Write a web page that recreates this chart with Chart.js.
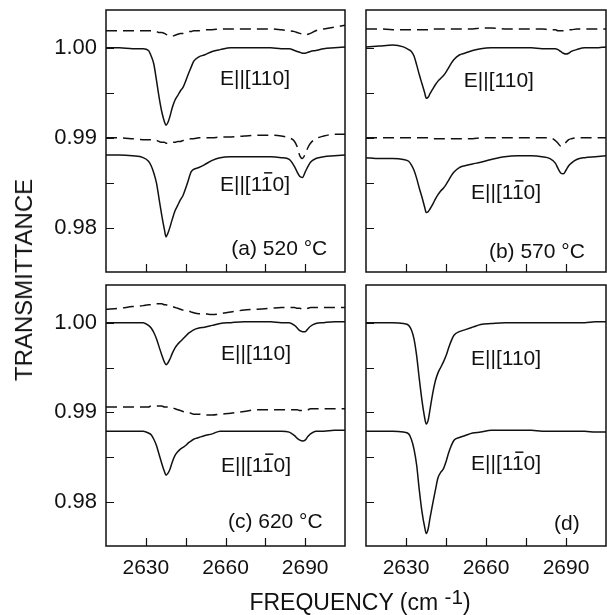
<!DOCTYPE html>
<html>
<head>
<meta charset="utf-8">
<script src="https://cdn.jsdelivr.net/npm/chart.js@4.4.0/dist/chart.umd.min.js"></script>
<style>
  html, body { margin: 0; padding: 0; background: #fff; }
  #wrap { position: relative; width: 607px; height: 615px; overflow: hidden; font-family: "Liberation Sans", Arial, sans-serif; color: #111; }
  canvas { position: absolute; }
  .axis-title { position: absolute; white-space: nowrap; transform: translate(-50%, -50%); }
  #yTitle { left: 24px; top: 280px; font-size: 24px; transform: translate(-50%, -50%) rotate(-90deg); }
  #xTitle { left: 360px; top: 602px; font-size: 23px; }
  #xTitle sup { font-size: 0.9em; vertical-align: 0.25em; line-height: 0; }
</style>
</head>
<body>
<div id="wrap">
  <canvas id="panelA" width="350" height="280" style="left:0;top:0;width:350px;height:280px"></canvas>
  <canvas id="panelB" width="257" height="280" style="left:350px;top:0;width:257px;height:280px"></canvas>
  <canvas id="panelC" width="350" height="335" style="left:0;top:280px;width:350px;height:335px"></canvas>
  <canvas id="panelD" width="257" height="335" style="left:350px;top:280px;width:257px;height:335px"></canvas>
  <div id="yTitle" class="axis-title">TRANSMITTANCE</div>
  <div id="xTitle" class="axis-title">FREQUENCY (cm <sup>-1</sup>)</div>
</div>

<script>
// =================== DATA ===================
// frequency grid (cm-1) shared by every trace
const frequency = [2615, 2620, 2625, 2629, 2631, 2632, 2633, 2634, 2635, 2636, 2637, 2637.6, 2638.3, 2639, 2640,
  2641, 2642, 2643, 2644, 2645, 2646, 2647, 2648, 2650, 2652, 2655, 2658, 2662, 2667, 2672, 2677, 2681, 2684,
  2686, 2687, 2688, 2689, 2690, 2691, 2692, 2694, 2697, 2701, 2705];

const xTickValues = [2630, 2645, 2660, 2675, 2690];
const xTickLabels = ["2630", "", "2660", "", "2690"];
const yTickValues = [0.98, 0.985, 0.99, 0.995, 1.0];
const yTickLabels = ["0.98", "", "0.99", "", "1.00"];

// (a) 520 °C
const a110Solid = [1.0000, 1.0000, 0.9999, 0.9999, 0.9997, 0.9991, 0.9982, 0.9964, 0.9945, 0.9929, 0.9918, 0.9914, 0.9917, 0.9923, 0.9934,
  0.9942, 0.9947, 0.9952, 0.9956, 0.9963, 0.9971, 0.9978, 0.9985, 0.9990, 0.9992, 0.9996, 0.9998, 1.0000, 1.0000, 1.0000, 1.0000, 0.9999, 0.9999,
  0.9997, 0.9996, 0.9995, 0.9994, 0.9994, 0.9995, 0.9996, 0.9997, 0.9999, 1.0000, 1.0001];
const a110Dashed = [1.0019, 1.0019, 1.0019, 1.0019, 1.0019, 1.0019, 1.0018, 1.0018, 1.0017, 1.0017, 1.0016, 1.0015, 1.0014, 1.0013, 1.0013,
  1.0014, 1.0015, 1.0016, 1.0016, 1.0017, 1.0018, 1.0018, 1.0019, 1.0019, 1.0020, 1.0020, 1.0021, 1.0021, 1.0021, 1.0021, 1.0021, 1.0020, 1.0019,
  1.0018, 1.0017, 1.0016, 1.0015, 1.0014, 1.0015, 1.0016, 1.0019, 1.0021, 1.0023, 1.0025];
const a1b10Solid = [0.9881, 0.9881, 0.9880, 0.9878, 0.9874, 0.9869, 0.9861, 0.9850, 0.9832, 0.9814, 0.9798, 0.9790, 0.9794, 0.9800, 0.9810,
  0.9819, 0.9825, 0.9831, 0.9836, 0.9844, 0.9853, 0.9862, 0.9865, 0.9867, 0.9870, 0.9875, 0.9878, 0.9879, 0.9879, 0.9879, 0.9879, 0.9878, 0.9876,
  0.9868, 0.9862, 0.9857, 0.9856, 0.9862, 0.9868, 0.9873, 0.9877, 0.9879, 0.9880, 0.9881];
const a1b10Dashed = [0.9900, 0.9900, 0.9899, 0.9898, 0.9898, 0.9898, 0.9897, 0.9897, 0.9896, 0.9895, 0.9895, 0.9894, 0.9894, 0.9894, 0.9895,
  0.9895, 0.9896, 0.9896, 0.9897, 0.9897, 0.9898, 0.9899, 0.9899, 0.9900, 0.9900, 0.9900, 0.9901, 0.9901, 0.9902, 0.9903, 0.9903, 0.9902, 0.9900,
  0.9896, 0.9890, 0.9880, 0.9877, 0.9882, 0.9889, 0.9894, 0.9899, 0.9902, 0.9904, 0.9904];

// (b) 570 °C
const b110Solid = [1.0001, 1.0002, 1.0003, 1.0001, 0.9998, 0.9996, 0.9991, 0.9981, 0.9970, 0.9960, 0.9950, 0.9944, 0.9945, 0.9949, 0.9954,
  0.9959, 0.9963, 0.9966, 0.9969, 0.9973, 0.9978, 0.9983, 0.9987, 0.9992, 0.9994, 0.9997, 0.9999, 1.0000, 1.0000, 1.0000, 1.0000, 0.9999, 0.9999,
  0.9999, 0.9998, 0.9996, 0.9994, 0.9993, 0.9994, 0.9996, 0.9998, 1.0000, 1.0000, 1.0001];
const b110Dashed = [1.0021, 1.0021, 1.0020, 1.0020, 1.0020, 1.0020, 1.0020, 1.0020, 1.0020, 1.0020, 1.0020, 1.0020, 1.0020, 1.0020, 1.0021,
  1.0021, 1.0021, 1.0021, 1.0021, 1.0021, 1.0021, 1.0021, 1.0021, 1.0021, 1.0021, 1.0021, 1.0022, 1.0022, 1.0021, 1.0021, 1.0021, 1.0021, 1.0020,
  1.0020, 1.0019, 1.0019, 1.0019, 1.0019, 1.0020, 1.0020, 1.0021, 1.0021, 1.0021, 1.0021];
const b1b10Solid = [0.9878, 0.9877, 0.9877, 0.9876, 0.9874, 0.9870, 0.9864, 0.9855, 0.9844, 0.9834, 0.9823, 0.9817, 0.9818, 0.9821, 0.9826,
  0.9832, 0.9837, 0.9841, 0.9844, 0.9848, 0.9853, 0.9858, 0.9862, 0.9867, 0.9869, 0.9871, 0.9873, 0.9876, 0.9879, 0.9880, 0.9880, 0.9879, 0.9877,
  0.9872, 0.9866, 0.9861, 0.9860, 0.9864, 0.9869, 0.9872, 0.9876, 0.9878, 0.9879, 0.9880];
const b1b10Dashed = [0.9900, 0.9900, 0.9900, 0.9900, 0.9900, 0.9900, 0.9900, 0.9900, 0.9900, 0.9900, 0.9900, 0.9900, 0.9900, 0.9900, 0.9899,
  0.9899, 0.9899, 0.9899, 0.9899, 0.9899, 0.9899, 0.9899, 0.9899, 0.9899, 0.9899, 0.9899, 0.9900, 0.9900, 0.9900, 0.9900, 0.9900, 0.9900, 0.9900,
  0.9897, 0.9894, 0.9891, 0.9891, 0.9895, 0.9898, 0.9899, 0.9900, 0.9900, 0.9900, 0.9900];

// (c) 620 °C
const c110Solid = [1.0000, 1.0000, 1.0000, 1.0000, 0.9997, 0.9994, 0.9989, 0.9982, 0.9973, 0.9964, 0.9956, 0.9953, 0.9955, 0.9959, 0.9966,
  0.9972, 0.9976, 0.9979, 0.9982, 0.9985, 0.9988, 0.9990, 0.9992, 0.9994, 0.9995, 0.9997, 0.9999, 1.0000, 1.0001, 1.0001, 1.0001, 1.0000, 1.0000,
  0.9997, 0.9994, 0.9991, 0.9990, 0.9990, 0.9993, 0.9996, 0.9999, 1.0000, 1.0001, 1.0001];
const c110Dashed = [1.0015, 1.0016, 1.0018, 1.0019, 1.0020, 1.0020, 1.0021, 1.0021, 1.0021, 1.0021, 1.0020, 1.0020, 1.0019, 1.0019, 1.0018,
  1.0017, 1.0016, 1.0015, 1.0014, 1.0013, 1.0013, 1.0012, 1.0011, 1.0010, 1.0010, 1.0009, 1.0010, 1.0012, 1.0014, 1.0015, 1.0016, 1.0017, 1.0017,
  1.0017, 1.0016, 1.0016, 1.0015, 1.0015, 1.0016, 1.0017, 1.0017, 1.0017, 1.0017, 1.0017];
const c1b10Solid = [0.9879, 0.9879, 0.9879, 0.9879, 0.9877, 0.9875, 0.9870, 0.9863, 0.9853, 0.9843, 0.9834, 0.9830, 0.9832, 0.9836, 0.9845,
  0.9852, 0.9856, 0.9859, 0.9861, 0.9863, 0.9866, 0.9868, 0.9870, 0.9872, 0.9874, 0.9876, 0.9879, 0.9879, 0.9879, 0.9879, 0.9879, 0.9879, 0.9878,
  0.9874, 0.9871, 0.9869, 0.9868, 0.9869, 0.9873, 0.9876, 0.9879, 0.9879, 0.9880, 0.9880];
const c1b10Dashed = [0.9906, 0.9906, 0.9906, 0.9906, 0.9906, 0.9907, 0.9907, 0.9907, 0.9907, 0.9907, 0.9906, 0.9906, 0.9906, 0.9905, 0.9905,
  0.9904, 0.9903, 0.9902, 0.9901, 0.9900, 0.9900, 0.9899, 0.9898, 0.9898, 0.9897, 0.9897, 0.9898, 0.9899, 0.9901, 0.9903, 0.9903, 0.9903, 0.9903,
  0.9903, 0.9903, 0.9902, 0.9902, 0.9903, 0.9903, 0.9904, 0.9904, 0.9904, 0.9904, 0.9904];

// (d)
const d110Solid = [1.0000, 1.0000, 1.0000, 0.9999, 0.9997, 0.9992, 0.9982, 0.9963, 0.9937, 0.9913, 0.9894, 0.9887, 0.9891, 0.9903, 0.9921,
  0.9935, 0.9944, 0.9950, 0.9956, 0.9963, 0.9972, 0.9980, 0.9986, 0.9990, 0.9992, 0.9995, 0.9998, 0.9999, 1.0000, 1.0000, 1.0000, 1.0000, 1.0000,
  1.0000, 1.0000, 1.0000, 1.0000, 1.0000, 1.0000, 1.0000, 1.0000, 1.0000, 1.0001, 1.0001];
const d1b10Solid = [0.9879, 0.9879, 0.9879, 0.9878, 0.9876, 0.9870, 0.9859, 0.9841, 0.9813, 0.9789, 0.9772, 0.9765, 0.9770, 0.9782, 0.9798,
  0.9813, 0.9827, 0.9833, 0.9837, 0.9845, 0.9855, 0.9863, 0.9869, 0.9872, 0.9874, 0.9877, 0.9878, 0.9880, 0.9880, 0.9880, 0.9880, 0.9879, 0.9879,
  0.9879, 0.9879, 0.9879, 0.9879, 0.9879, 0.9879, 0.9879, 0.9879, 0.9879, 0.9878, 0.9878];

const FONT = '"Liberation Sans", Arial, sans-serif';
const INK = "#111";

// =================== FRAME, TICKS AND NOTES ===================
const panelFrame = {
  id: "panelFrame",
  afterDatasetsDraw(chart, args, opts) {
    const { ctx, chartArea: a, scales } = chart;
    ctx.save();
    ctx.strokeStyle = INK;
    ctx.lineWidth = 1.5;
    ctx.strokeRect(a.left, a.top, a.right - a.left, a.bottom - a.top);

    ctx.lineWidth = 1.2;
    ctx.beginPath();
    yTickValues.forEach(v => {
      const py = Math.round(scales.y.getPixelForValue(v)) + 0.5;
      ctx.moveTo(a.left, py);
      ctx.lineTo(a.left + 8, py);
    });
    xTickValues.forEach(v => {
      const px = Math.round(scales.x.getPixelForValue(v)) + 0.5;
      ctx.moveTo(px, a.bottom);
      ctx.lineTo(px, a.bottom - 8);
    });
    ctx.stroke();

    // in-plot labels; "bar" marks which character gets an overbar
    ctx.fillStyle = INK;
    ctx.font = `21px ${FONT}`;
    ctx.textAlign = "left";
    ctx.textBaseline = "middle";
    (opts.notes || []).forEach(n => {
      const px = scales.x.getPixelForValue(n.x);
      const py = scales.y.getPixelForValue(n.y);
      ctx.fillText(n.text, px, py);
      if (n.bar !== undefined) {
        const x0 = px + ctx.measureText(n.text.slice(0, n.bar)).width;
        const w = ctx.measureText(n.text.charAt(n.bar)).width;
        ctx.lineWidth = 1.5;
        ctx.beginPath();
        ctx.moveTo(x0 + w * 0.15, py - 12);
        ctx.lineTo(x0 + w * 0.85, py - 12);
        ctx.stroke();
      }
    });
    ctx.restore();
  }
};

function trace(values, dashed) {
  return {
    data: frequency.map((f, i) => ({ x: f, y: values[i] })),
    borderColor: INK,
    borderWidth: 1.5,
    borderDash: dashed ? [11, 6] : [],
    pointRadius: 0,
    fill: false,
    cubicInterpolationMode: "monotone"
  };
}

// =================== ONE PANEL ===================
function createPanel(canvasId, traces, notes, cfg) {
  const ctx = document.getElementById(canvasId);
  new Chart(ctx, {
    type: "line",
    data: { datasets: traces },
    plugins: [panelFrame],
    options: {
      responsive: false,
      animation: false,
      events: [],
      layout: { autoPadding: false, padding: { top: cfg.top, right: cfg.right, left: 0, bottom: 0 } },
      scales: {
        x: {
          type: "linear",
          min: 2615,
          max: 2705,
          grid: { display: false, drawTicks: false },
          border: { display: false },
          afterBuildTicks: s => { s.ticks = xTickValues.map(v => ({ value: v })); },
          afterFit: s => { s.height = cfg.xHeight; s.paddingLeft = 0; s.paddingRight = 0; },
          ticks: {
            display: cfg.xLabels,
            padding: 10,
            color: INK,
            maxRotation: 0,
            autoSkip: false,
            font: { family: FONT, size: 21 },
            callback: (v, i) => xTickLabels[i]
          }
        },
        y: {
          min: 0.9751,
          max: 1.0042,
          grid: { display: false, drawTicks: false },
          border: { display: false },
          afterBuildTicks: s => { s.ticks = yTickValues.map(v => ({ value: v })); },
          afterFit: s => { s.width = cfg.yWidth; s.paddingTop = 0; s.paddingBottom = 0; },
          ticks: {
            display: cfg.yLabels,
            padding: 9,
            color: INK,
            autoSkip: false,
            font: { family: FONT, size: 22 },
            callback: (v, i) => yTickLabels[i]
          }
        }
      },
      plugins: {
        legend: { display: false },
        tooltip: { enabled: false },
        panelFrame: { notes: notes }
      }
    }
  });
}

const E110 = "E||[110]";
const E1b10 = "E||[110]";   // bar goes over the second "1"

createPanel("panelA",
  [trace(a110Dashed, true), trace(a110Solid), trace(a1b10Dashed, true), trace(a1b10Solid)],
  [
    { text: E110, x: 2657.9, y: 0.99656 },
    { text: E1b10, x: 2657.9, y: 0.98478, bar: 5 },
    { text: "(a) 520 °C", x: 2662.2, y: 0.97767 }
  ],
  { top: 10, right: 5, xHeight: 8, yWidth: 106, xLabels: false, yLabels: true });

createPanel("panelB",
  [trace(b110Dashed, true), trace(b110Solid), trace(b1b10Dashed, true), trace(b1b10Solid)],
  [
    { text: E110, x: 2651.7, y: 0.99633 },
    { text: E1b10, x: 2654.4, y: 0.98389, bar: 5 },
    { text: "(b) 570 °C", x: 2661.1, y: 0.97733 }
  ],
  { top: 10, right: 1, xHeight: 8, yWidth: 16, xLabels: false, yLabels: false });

createPanel("panelC",
  [trace(c110Dashed, true), trace(c110Solid), trace(c1b10Dashed, true), trace(c1b10Solid)],
  [
    { text: E110, x: 2658.3, y: 0.99644 },
    { text: E1b10, x: 2658.3, y: 0.98400, bar: 5 },
    { text: "(c) 620 °C", x: 2660.9, y: 0.97778 }
  ],
  { top: 5, right: 5, xHeight: 69, yWidth: 106, xLabels: true, yLabels: true });

createPanel("panelD",
  [trace(d110Solid), trace(d1b10Solid)],
  [
    { text: E110, x: 2654.4, y: 0.99589 },
    { text: E1b10, x: 2654.4, y: 0.98422, bar: 5 },
    { text: "(d)", x: 2685.5, y: 0.97756 }
  ],
  { top: 5, right: 1, xHeight: 69, yWidth: 16, xLabels: true, yLabels: false });
</script>
</body>
</html>
